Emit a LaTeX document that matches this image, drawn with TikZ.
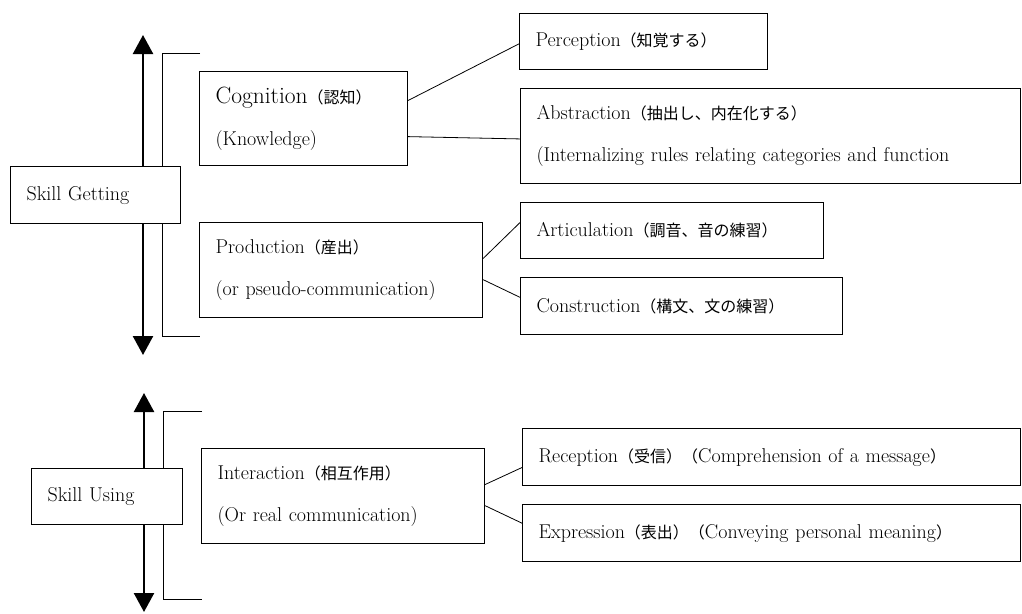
\documentclass[tikz,border=0pt]{standalone}
\usepackage{fontspec}
\newfontfamily\jp[Scale=0.8]{Noto Sans CJK JP}
\usetikzlibrary{arrows.meta,calc}
\newcommand{\ja}[1]{{\jp #1}}

\begin{document}
\begin{tikzpicture}[x=1pt,y=-1pt,
		box/.style={draw, fill=white, line width=1.1pt, anchor=north west,
			align=left, inner xsep=16pt, inner ysep=0pt,
			font=\fontsize{20}{42}\selectfont},
		link/.style={line width=0.8pt},
		axis/.style={line width=2.4pt, -{Triangle[width=20pt,length=19pt]}},
		bracket/.style={line width=0.8pt}]
	
	\useasboundingbox (0,0) rectangle (1022,613);
	
	% brackets behind the skill boxes
	\draw[bracket] (200,53) -- (162,53) -- (162,336) -- (200,336);
	\draw[bracket] (202,411) -- (163,411) -- (163,599) -- (202,599);
	
	% skill getting
	\node[box, text width=138pt, minimum height=57pt] (sg) at (10,166) {Skill Getting};
	\node[box, text width=176pt, minimum height=94pt] (cog) at (199,71)
	{{\fontsize{23.5}{42}\selectfont Cognition}\ja{（認知）}\\(Knowledge)};
	\node[box, text width=251pt, minimum height=95pt] (prod) at (199,222)
	{Production\ja{（産出）}\\(or pseudo-communication)};
	
	\node[box, text width=216pt, minimum height=56pt] (per) at (519,13) {Perception\ja{（知覚する）}};
	\node[box, text width=468pt, minimum height=95pt] (abs) at (520,88)
	{Abstraction\ja{（抽出し、内在化する）}\\(Internalizing rules relating categories and function};
	\node[box, text width=271pt, minimum height=56pt] (art) at (520,202) {Articulation\ja{（調音、音の練習）}};
	\node[box, text width=290pt, minimum height=57pt] (con) at (520,277) {Construction\ja{（構文、文の練習）}};
	
	% skill using
	\node[box, text width=119pt, minimum height=56pt] (su) at (31,468) {Skill Using};
	\node[box, text width=251pt, minimum height=95pt] (int) at (201,448)
	{Interaction\ja{（相互作用）}\\(Or real communication)};
	\node[box, text width=466pt, minimum height=57pt] (rec) at (522,428)
	{Reception\ja{（受信）（}Comprehension of a message\ja{）}};
	\node[box, text width=466pt, minimum height=57pt] (exp) at (522,504)
	{Expression\ja{（表出）（}Conveying personal meaning\ja{）}};
	
	% vertical arrows
	\coordinate (gtop) at (143,35);
	\coordinate (gbot) at (143,355);
	\coordinate (utop) at (144,393);
	\coordinate (ubot) at (144,612);
	\draw[axis] (gtop |- sg.north) -- (gtop);
	\draw[axis] (gbot |- sg.south) -- (gbot);
	\draw[axis] (utop |- su.north) -- (utop);
	\draw[axis] (ubot |- su.south) -- (ubot);
	
	% links
	\draw[link] ($(cog.north east)!.31!(cog.south east)$) -- ($(per.north west)!.54!(per.south west)$);
	\draw[link] ($(cog.north east)!.69!(cog.south east)$) -- ($(abs.north west)!.53!(abs.south west)$);
	\draw[link] ($(prod.north east)!.38!(prod.south east)$) -- ($(art.north west)!.36!(art.south west)$);
	\draw[link] ($(prod.north east)!.60!(prod.south east)$) -- ($(con.north west)!.35!(con.south west)$);
	\draw[link] ($(int.north east)!.38!(int.south east)$) -- ($(rec.north west)!.68!(rec.south west)$);
	\draw[link] ($(int.north east)!.60!(int.south east)$) -- ($(exp.north west)!.33!(exp.south west)$);
	
\end{tikzpicture}
\end{document}
